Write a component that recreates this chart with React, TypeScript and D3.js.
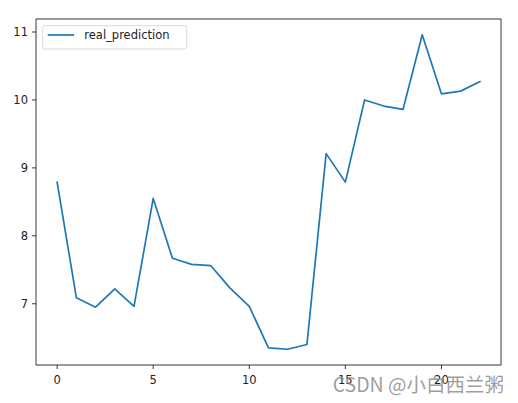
import React from "react";
import * as d3 from "d3";

const xValues = d3.range(0, 23);
const realPrediction = [8.79, 7.09, 6.95, 7.22, 6.96, 8.55, 7.67, 7.58, 7.56, 7.23, 6.96, 6.35, 6.33, 6.4, 9.21, 8.79, 10.0, 9.91, 9.86, 10.96, 10.09, 10.13, 10.27];
const xTicks = [0, 5, 10, 15, 20];
const yTicks = [7, 8, 9, 10, 11];
const seriesName = "real_prediction";

export default function App() {
  const W = 518, H = 403;
  const left = 36, right = 501, top = 19, bottom = 365;
  const xmin = d3.min(xValues)!, xmax = d3.max(xValues)!;
  const ymin = d3.min(realPrediction)!, ymax = d3.max(realPrediction)!;
  const xpad = (xmax - xmin) * 0.05, ypad = (ymax - ymin) * 0.05;
  const x = d3.scaleLinear().domain([xmin - xpad, xmax + xpad]).range([left, right]);
  const y = d3.scaleLinear().domain([ymin - ypad, ymax + ypad]).range([bottom, top]);
  const line = d3.line<number>().x((_, i) => x(xValues[i])).y((d) => y(d));
  const font = "DejaVu Sans, sans-serif";
  return (
    <svg width={W} height={H} style={{ position: "absolute", left: 0, top: 0, background: "#fff" }} fontFamily={font}>
      <rect x={0} y={0} width={W} height={H} fill="#fff" />
      <path d={line(realPrediction) || ""} fill="none" stroke="#1f77b4" strokeWidth={1.7} strokeLinejoin="round" strokeLinecap="square" />
      <rect x={left} y={top} width={right - left} height={bottom - top} fill="none" stroke="#222" strokeWidth={0.9} />
      {xTicks.map((t) => (
        <g key={"x" + t}>
          <line x1={x(t)} x2={x(t)} y1={bottom} y2={bottom + 4} stroke="#222" strokeWidth={0.9} />
          <text x={x(t)} y={bottom + 19} fontSize={11.5} textAnchor="middle" fill="#222">{t}</text>
        </g>
      ))}
      {yTicks.map((t) => (
        <g key={"y" + t}>
          <line x1={left - 4} x2={left} y1={y(t)} y2={y(t)} stroke="#222" strokeWidth={0.9} />
          <text x={left - 8} y={y(t)} dy="0.35em" fontSize={11.5} textAnchor="end" fill="#222">{t}</text>
        </g>
      ))}
      <g>
        <rect x={42.7} y={25.7} width={144} height={23.3} rx={2} fill="#fff" fillOpacity={0.8} stroke="#d5d5d5" strokeWidth={0.9} />
        <line x1={47.7} x2={74} y1={35} y2={35} stroke="#1f77b4" strokeWidth={1.7} />
        <text x={84.3} y={35} dy="0.35em" fontSize={11.5} fill="#222">{seriesName}</text>
      </g>
      <text x={504} y={392} fontSize={19.5} textAnchor="end" fill="#8c8c8c" fillOpacity={0.85} fontFamily="'Noto Sans CJK SC', sans-serif">CSDN @小白西兰粥</text>
    </svg>
  );
}
